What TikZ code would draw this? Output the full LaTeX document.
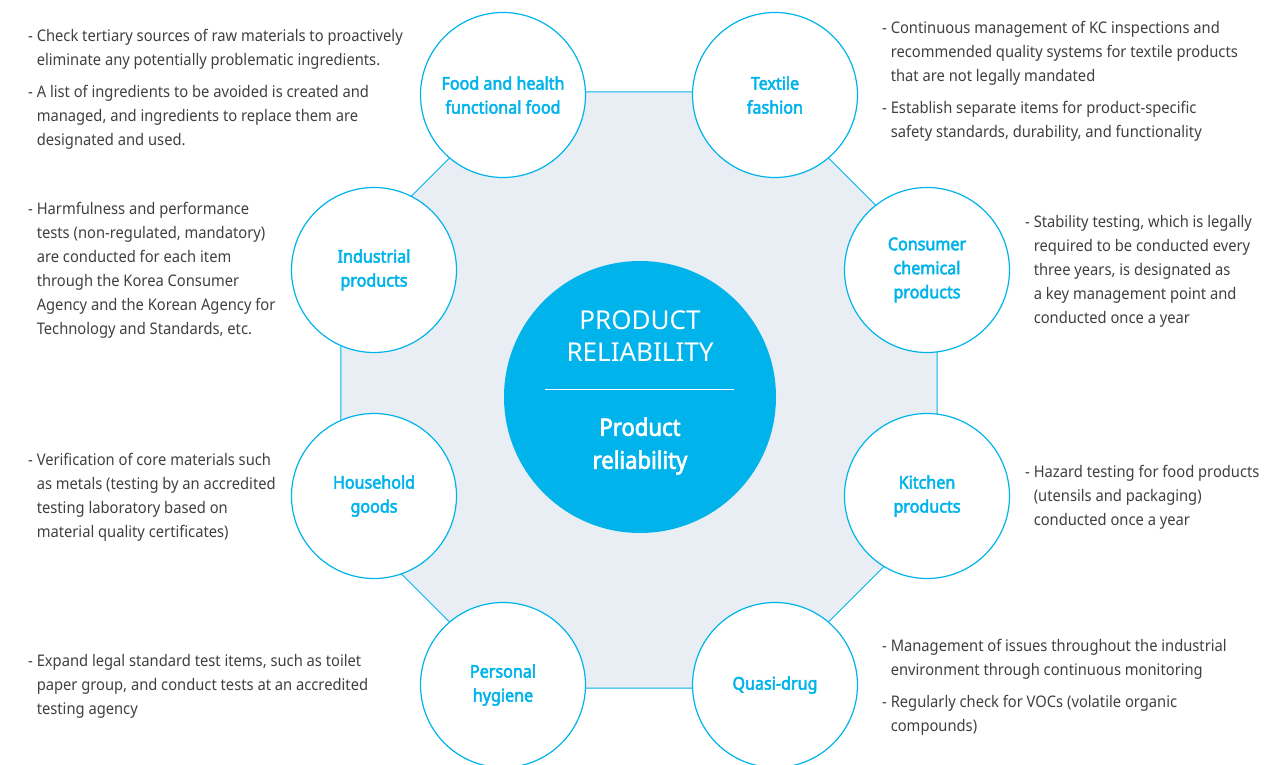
\documentclass[tikz,border=0pt]{standalone}
\usepackage{fontspec}
\setmainfont{Noto Sans}[FakeStretch=0.92, BoldFont={Noto Sans}, BoldFeatures={FakeBold=2.8}]
\newfontfamily\capsfont{Noto Sans}
\definecolor{skyblue}{HTML}{00B4EB}
\definecolor{panel}{HTML}{E8EEF3}
\definecolor{txtgray}{HTML}{404040}

\begin{document}
\begin{tikzpicture}[
  x=1pt, y=-1pt,
  cat/.style={circle, draw=skyblue, line width=1.2pt, fill=white, minimum size=165pt, inner sep=0pt, align=center, text=skyblue, font=\fontsize{17.5}{24}\selectfont\bfseries},
  core/.style={circle, fill=skyblue, minimum size=272pt, inner sep=0pt},
  note/.style={anchor=north west, align=left, inner sep=0pt, text=txtgray, font=\fontsize{16}{24}\selectfont},
  edgeline/.style={draw=skyblue, line width=1pt, fill=panel}
  ]
\useasboundingbox (0,0) rectangle (1288,765);

% octagon behind the circles
\coordinate (oc) at (639,390);
\foreach \i in {0,...,7}
  \coordinate[shift={(639,390)}] (v\i) at (22.5+45*\i:322.6);
\draw [edgeline] (v0) \foreach \i in {1,...,7}{-- (v\i)} -- cycle;

% categories
\node [cat] (food) at (503,95) {Food and health\\functional food};
\node [cat] (textile) at (775,95) {Textile\\fashion};
\node [cat] (indus) at (374,270) {Industrial\\products};
\node [cat] (chem) at (927,270) {Consumer\\chemical\\products};
\node [cat] (house) at (374,496) {Household\\goods};
\node [cat] (kitchen) at (927,496) {Kitchen\\products};
\node [cat] (hygiene) at (503,685) {Personal\\hygiene};
\node [cat] (quasi) at (775,685) {Quasi-drug};

% center
\node [core] (rel) at (640,397) {};
\node [text=white, font=\capsfont\fontsize{26}{32}\selectfont, align=center] (relup) at (640,336) {PRODUCT\\RELIABILITY};
\node [text=white, font=\fontsize{24}{33}\selectfont\bfseries, align=center] (reldown) at (640,446) {Product\\reliability};
\draw [white, line width=0.8pt] ([xshift=-95pt,yshift=8pt]rel.center) -- ([xshift=94pt,yshift=8pt]rel.center);

% notes left
\node [note] (nfood) at (28,29) {- Check tertiary sources of raw materials to proactively\\
\hphantom{- }eliminate any potentially problematic ingredients.\\[8pt]
- A list of ingredients to be avoided is created and\\
\hphantom{- }managed, and ingredients to replace them are\\
\hphantom{- }designated and used.};
\node [note] (nindus) at (28,202) {- Harmfulness and performance\\
\hphantom{- }tests (non-regulated, mandatory)\\
\hphantom{- }are conducted for each item\\
\hphantom{- }through the Korea Consumer\\
\hphantom{- }Agency and the Korean Agency for\\
\hphantom{- }Technology and Standards, etc.};
\node [note] (nhouse) at (28,453) {- Verification of core materials such\\
\hphantom{- }as metals (testing by an accredited\\
\hphantom{- }testing laboratory based on\\
\hphantom{- }material quality certificates)};
\node [note] (nhyg) at (28,654) {- Expand legal standard test items, such as toilet\\
\hphantom{- }paper group, and conduct tests at an accredited\\
\hphantom{- }testing agency};

% notes right
\node [note] (ntex) at (882,21) {- Continuous management of KC inspections and\\
\hphantom{- }recommended quality systems for textile products\\
\hphantom{- }that are not legally mandated\\[8pt]
- Establish separate items for product-specific\\
\hphantom{- }safety standards, durability, and functionality};
\node [note] (nchem) at (1025,215) {- Stability testing, which is legally\\
\hphantom{- }required to be conducted every\\
\hphantom{- }three years, is designated as\\
\hphantom{- }a key management point and\\
\hphantom{- }conducted once a year};
\node [note] (nkit) at (1025,465) {- Hazard testing for food products\\
\hphantom{- }(utensils and packaging)\\
\hphantom{- }conducted once a year};
\node [note] (nquasi) at (882,639) {- Management of issues throughout the industrial\\
\hphantom{- }environment through continuous monitoring\\[8pt]
- Regularly check for VOCs (volatile organic\\
\hphantom{- }compounds)};

\end{tikzpicture}
\end{document}
